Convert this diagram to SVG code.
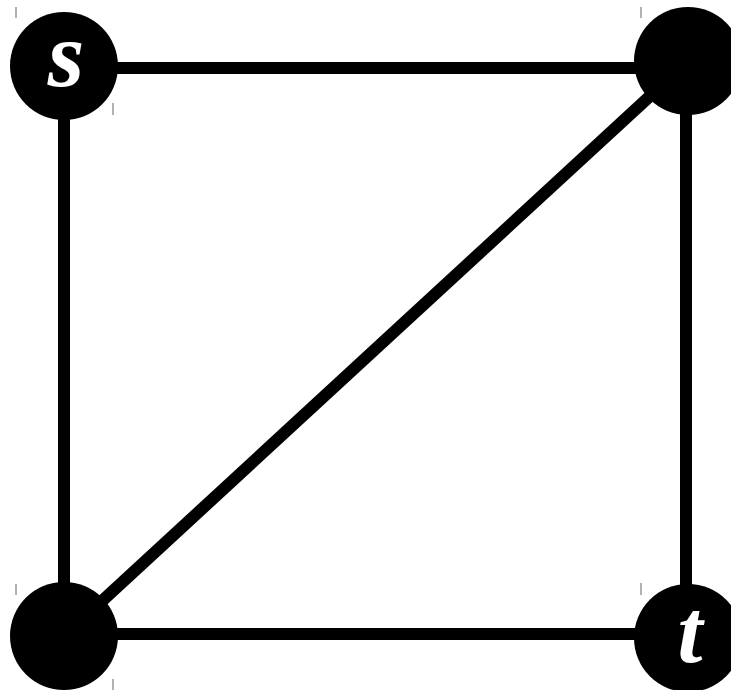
<svg xmlns="http://www.w3.org/2000/svg" width="731" height="690" viewBox="0 0 731 690">
<style>
.edge{stroke:#000;stroke-width:12;fill:none}
.node{fill:#000}
.lbl{fill:#fff;font-family:"Liberation Serif",serif;font-style:italic;font-weight:bold;font-size:90px;text-anchor:middle}
.tick{stroke:#999;stroke-width:1.5}
</style>
<rect width="731" height="690" fill="#fff"/>
<g id="ticks">
<line class="tick" x1="16" y1="7" x2="16" y2="18"/>
<line class="tick" x1="113" y1="103" x2="113" y2="115"/>
<line class="tick" x1="641" y1="7" x2="641" y2="18"/>
<line class="tick" x1="16" y1="584" x2="16" y2="595"/>
<line class="tick" x1="641" y1="583" x2="641" y2="595"/>
<line class="tick" x1="113" y1="679" x2="113" y2="690"/>
</g>
<g id="connectors">
<line class="edge" x1="64" y1="68" x2="687" y2="68"/>
<line class="edge" x1="64" y1="66" x2="64" y2="636"/>
<line class="edge" x1="686" y1="62" x2="686" y2="637"/>
<line class="edge" x1="64" y1="634" x2="687" y2="634"/>
<line class="edge" x1="64" y1="636" x2="687" y2="62"/>
</g>
<g id="node-s">
<circle class="node" cx="64" cy="66" r="54"/>
<text class="lbl" x="66" y="86" style="font-size:94px">s</text>
</g>
<g id="node-tr">
<circle class="node" cx="688" cy="61" r="54"/>
</g>
<g id="node-bl">
<circle class="node" cx="64" cy="636" r="54"/>
</g>
<g id="node-t">
<circle class="node" cx="688" cy="638" r="54"/>
<text class="lbl" x="690" y="662">t</text>
</g>
</svg>
